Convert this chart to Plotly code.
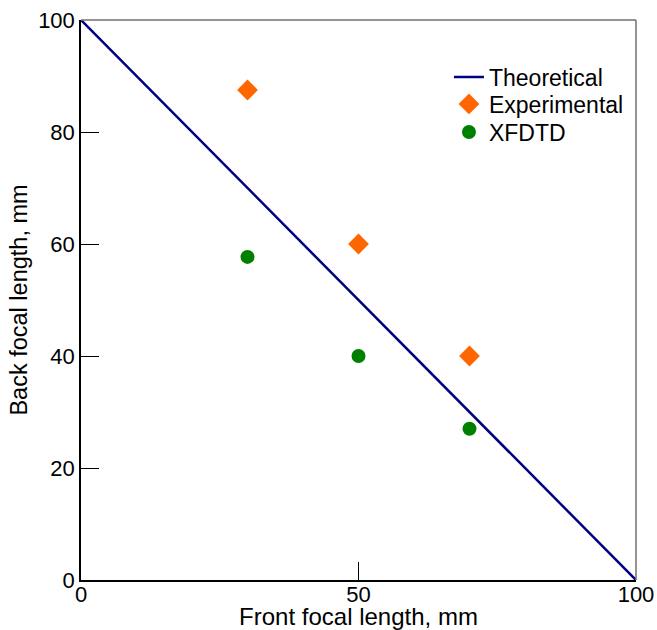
import plotly.graph_objects as go

theory_x = [0, 100]
theory_y = [100, 0]
exp_x = [30, 50, 70]
exp_y = [87.5, 60, 40]
xfdtd_x = [30, 50, 70]
xfdtd_y = [57.7, 40, 27]

x_ticks = [0, 50, 100]
y_ticks = [0, 20, 40, 60, 80, 100]

font = "Liberation Sans, Arial, sans-serif"
legfont = dict(size=23, family=font, color="black")

fig = go.Figure()
fig.add_trace(go.Scatter(x=theory_x, y=theory_y, mode="lines", name="Theoretical",
                         line=dict(color="#000080", width=2.5), legend="legend"))
fig.add_trace(go.Scatter(x=exp_x, y=exp_y, mode="markers", name="Experimental",
                         marker=dict(symbol="diamond", size=16, color="#FF6600"),
                         legend="legend2"))
fig.add_trace(go.Scatter(x=xfdtd_x, y=xfdtd_y, mode="markers", name="XFDTD",
                         marker=dict(symbol="circle", size=14, color="#008000"),
                         legend="legend3"))

leg_common = dict(x=0.663, xanchor="left", yanchor="middle", font=legfont,
                  bgcolor="rgba(0,0,0,0)")

fig.update_layout(
    width=657, height=630,
    margin=dict(l=81, r=21, t=20, b=50),
    paper_bgcolor="white", plot_bgcolor="white",
    font=dict(family=font, color="black"),
    showlegend=True,
    legend=dict(y=0.898, **leg_common),
    legend2=dict(y=0.85, **leg_common),
    legend3=dict(y=0.80, **leg_common),
    xaxis=dict(range=[0, 100], tickvals=x_ticks, ticks="inside", ticklen=18,
               tickcolor="black", showline=True, linecolor="black", linewidth=1.5,
               showgrid=False, zeroline=False, tickfont=dict(size=22),
               automargin=False, ticklabelstandoff=-6,
               title=dict(text="Front focal length, mm", font=dict(size=24), standoff=3)),
    yaxis=dict(range=[0, 100], tickvals=y_ticks, ticks="inside", ticklen=18,
               tickcolor="black", showline=True, linecolor="black", linewidth=1.5,
               showgrid=False, zeroline=False, tickfont=dict(size=22),
               automargin=False,
               title=dict(text="Back focal length, mm", font=dict(size=23.5), standoff=4)),
)
fig.add_shape(type="line", xref="paper", yref="paper", x0=0, x1=1, y0=1, y1=1,
              line=dict(color="#707070", width=1.5))
fig.add_shape(type="line", xref="paper", yref="paper", x0=1, x1=1, y0=0, y1=1,
              line=dict(color="#707070", width=1.5))

fig.write_html("out.html", config={"displayModeBar": False},
               post_script="document.body.style.margin='0';document.body.style.overflow='hidden';")
